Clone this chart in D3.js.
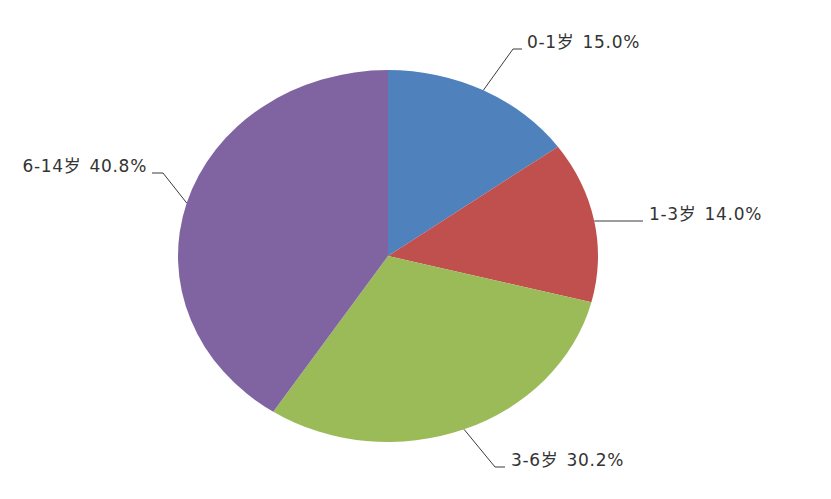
<!DOCTYPE html>
<html><head><meta charset="utf-8">
<script src="https://cdn.jsdelivr.net/npm/d3@7"></script>
<style>body{margin:0;background:#fff}svg{display:block}</style>
</head><body>
<svg id="c" width="831" height="499"></svg>
<script>
const categories = ["0-1岁", "1-3岁", "3-6岁", "6-14岁"];
const values = [15.0, 14.0, 30.2, 40.8];
const colors = ["#4F81BD", "#C0504D", "#9BBB59", "#8064A2"];

const W = 831, H = 499;
const cx = 388, cy = 256, rx = 210, ry = 186;
const svg = d3.select("#c");

const data = categories.map((c, i) => ({cat: c, val: values[i], color: colors[i]}));
const pie = d3.pie().value(d => d.val).sort(null);
const arcs = pie(data);
const R = 100;
const arc = d3.arc().innerRadius(0).outerRadius(R);

const g = svg.append("g").attr("transform", `translate(${cx},${cy}) scale(${rx / R},${ry / R})`);
g.selectAll("path").data(arcs).enter().append("path")
  .attr("d", arc).attr("fill", d => d.data.color);

const layout = [
  {elbow: [513, 49], end: [522, 49], tx: 527, anchor: "start"},
  {elbow: null, end: [643, 221], tx: 649, anchor: "start"},
  {elbow: [495, 467], end: [505, 467], tx: 511, anchor: "start"},
  {elbow: [163, 173], end: [152, 173], tx: 147, anchor: "end"}
];

const fmt = d3.format(".1f");
arcs.forEach((a, i) => {
  const m = (a.startAngle + a.endAngle) / 2;
  const px = cx + rx * Math.sin(m), py = cy - ry * Math.cos(m);
  const L = layout[i];
  const pts = [[px, py]];
  if (L.elbow) pts.push(L.elbow);
  pts.push(L.end);
  if (!L.elbow) pts[0][1] = L.end[1];
  svg.append("path").attr("d", d3.line()(pts))
    .attr("fill", "none").attr("stroke", "#3a3a3a").attr("stroke-width", 1);
  const t = svg.append("text").attr("x", L.tx).attr("y", L.end[1] - 1)
    .attr("text-anchor", L.anchor)
    .attr("font-family", "'DejaVu Sans','Noto Sans CJK SC',sans-serif")
    .attr("font-size", 17).attr("fill", "#333")
    .attr("letter-spacing", 0.7);
  t.append("tspan").text(a.data.cat);
  t.append("tspan").attr("dx", 8).text(`${fmt(a.data.val)}%`);
});
</script>
</body></html>
